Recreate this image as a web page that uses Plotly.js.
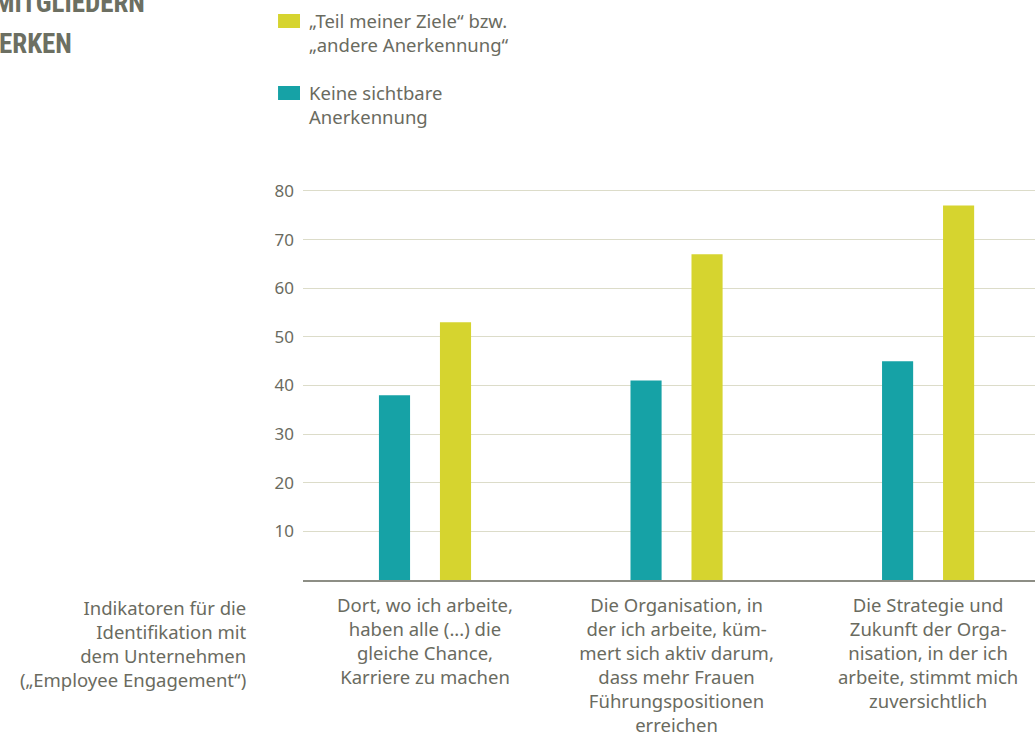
<!DOCTYPE html>
<html><head><meta charset="utf-8">
<script src="https://cdn.plot.ly/plotly-3.0.1.min.js"></script>
<style>html,body{margin:0;padding:0;background:#fff;overflow:hidden}#chart{width:1035px;height:737px}</style>
</head><body><div id="chart"></div>
<script>
const categories = [
  "Dort, wo ich arbeite,<br>haben alle (...) die<br>gleiche Chance,<br>Karriere zu machen",
  "Die Organisation, in<br>der ich arbeite, küm-<br>mert sich aktiv darum,<br>dass mehr Frauen<br>Führungspositionen<br>erreichen",
  "Die Strategie und<br>Zukunft der Orga-<br>nisation, in der ich<br>arbeite, stimmt mich<br>zuversichtlich"
];
const seriesNames = ["Keine sichtbare<br>Anerkennung", "„Teil meiner Ziele“ bzw.<br>„andere Anerkennung“"];
const keineValues = [38, 41, 45];
const zieleValues = [53, 67, 77];
const yTicks = [10, 20, 30, 40, 50, 60, 70, 80];
const axisLabel = "Indikatoren für die<br>Identifikation mit<br>dem Unternehmen<br>(„Employee Engagement“)";
const titleLines = ["MITGLIEDERN", "ERKEN"];

const TEAL = "#16a2a6", YELLOW = "#d6d42f", TXT = "#6a6b5f", FONT = "'Noto Sans', Lato, sans-serif";
const FS = 18.5;

const traces = [
  {type: "bar", x: [0,1,2], y: keineValues, name: seriesNames[0], marker: {color: TEAL}, hoverinfo: "y"},
  {type: "bar", x: [0,1,2], y: zieleValues, name: seriesNames[1], marker: {color: YELLOW}, hoverinfo: "y"}
];

const layout = {
  width: 1035, height: 737,
  margin: {l: 303, r: 0, t: 189, b: 157},
  paper_bgcolor: "#fff", plot_bgcolor: "#fff",
  barmode: "group", bargap: 0.515, bargroupgap: 0.49,
  showlegend: false,
  font: {family: FONT, color: TXT, size: FS},
  xaxis: {
    range: [-0.485, 2.425], tickmode: "array", tickvals: [0,1,2], ticktext: categories,
    showgrid: false, zeroline: false, showline: true, linecolor: "#8d8e85", linewidth: 2,
    ticks: "", tickfont: {family: FONT, size: FS, color: TXT}, ticklabelstandoff: 8, fixedrange: true
  },
  yaxis: {
    range: [0, 80.4], tickmode: "array", tickvals: yTicks, ticktext: yTicks.map(String),
    showgrid: true, gridcolor: "#dcdcc9", gridwidth: 1, zeroline: false, showline: false,
    ticks: "", tickfont: {family: FONT, size: 17, color: TXT}, ticklabelstandoff: 8, fixedrange: true
  },
  shapes: [
    {type: "rect", xref: "paper", yref: "paper", x0: -0.0341, x1: -0.0041, y0: 1 + (189-28)/391, y1: 1 + (189-14)/391, fillcolor: YELLOW, line: {width: 0}},
    {type: "rect", xref: "paper", yref: "paper", x0: -0.0341, x1: -0.0041, y0: 1 + (189-100)/391, y1: 1 + (189-86)/391, fillcolor: TEAL, line: {width: 0}}
  ],
  annotations: [
    {xref: "paper", yref: "paper", x: (307-303)/732, y: 1 + (189-6)/391, xanchor: "left", yanchor: "top", align: "left",
     text: seriesNames[1], showarrow: false, font: {family: FONT, size: FS, color: TXT}},
    {xref: "paper", yref: "paper", x: (307-303)/732, y: 1 + (189-78)/391, xanchor: "left", yanchor: "top", align: "left",
     text: seriesNames[0], showarrow: false, font: {family: FONT, size: FS, color: TXT}},
    {xref: "paper", yref: "paper", x: (249-303)/732, y: (580-593)/391, xanchor: "right", yanchor: "top", align: "right",
     text: axisLabel, showarrow: false, font: {family: FONT, size: FS, color: TXT}},
    {xref: "paper", yref: "paper", x: (147-303)/732, y: 1 + (189+15)/391, xanchor: "right", yanchor: "top", align: "left",
     text: "<b>" + titleLines[0] + "</b>", showarrow: false, font: {family: "'Liberation Sans Narrow', 'Roboto Condensed', Roboto, sans-serif", size: 27, color: "#6c6f62"}},
    {xref: "paper", yref: "paper", x: (74-303)/732, y: 1 + (189-26)/391, xanchor: "right", yanchor: "top", align: "left",
     text: "<b>" + titleLines[1] + "</b>", showarrow: false, font: {family: "'Liberation Sans Narrow', 'Roboto Condensed', Roboto, sans-serif", size: 27, color: "#6c6f62"}}
  ]
};

Plotly.newPlot("chart", traces, layout, {displayModeBar: false, staticPlot: true});
</script></body></html>
